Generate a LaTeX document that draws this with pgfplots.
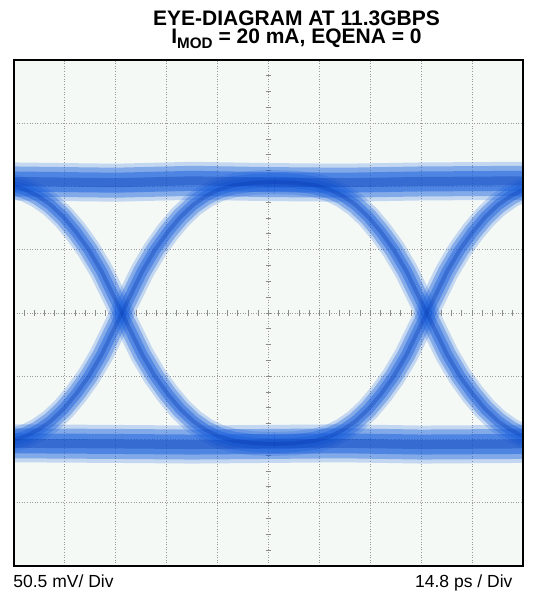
\documentclass[border=0pt]{standalone}
\usepackage{fontspec}
\setmainfont{Liberation Sans}
\usepackage{pgfplots}
\usepackage{pgfplotstable}
\pgfplotsset{compat=1.18}
\definecolor{bgc}{HTML}{F4F9F6}
\definecolor{eyeb}{RGB}{25,95,220}
\definecolor{eyed}{RGB}{10,60,180}
\definecolor{gridc}{HTML}{9A9A9A}
\definecolor{tickc}{HTML}{8A8A8A}

% rails (x in divisions, y in divisions)
\pgfplotstableread{
x y
0 6.08
2 6.06
3.5 6.09
5 6.07
6.5 6.06
8 6.08
10 6.09
}\upperrail
\pgfplotstableread{
x y
0 1.94
2 1.93
3.5 1.92
5 1.93
6.5 1.94
8 1.92
10 1.93
}\lowerrail
% transitions through the left crossing
\pgfplotstableread{
x y
-0.88 6.07
-0.48 6.06
-0.08 6.02
0.22 5.95
0.47 5.85
0.72 5.71
0.97 5.52
1.22 5.28
1.47 5.00
1.72 4.66
1.92 4.33
2.12 4.00
2.32 3.67
2.52 3.34
2.77 3.00
3.02 2.72
3.27 2.48
3.52 2.29
3.77 2.15
4.02 2.05
4.32 1.98
4.72 1.94
5.12 1.93
}\fallA
\pgfplotstableread{
x y
-0.88 1.93
-0.48 1.94
-0.08 1.98
0.22 2.05
0.47 2.15
0.72 2.29
0.97 2.48
1.22 2.72
1.47 3.00
1.72 3.34
1.92 3.67
2.12 4.00
2.32 4.33
2.52 4.66
2.77 5.00
3.02 5.28
3.27 5.52
3.52 5.71
3.77 5.85
4.02 5.95
4.32 6.02
4.72 6.06
5.12 6.07
}\riseA
% transitions through the right crossing
\pgfplotstableread{
x y
5.11 6.07
5.51 6.06
5.91 6.02
6.21 5.95
6.46 5.85
6.71 5.71
6.96 5.52
7.21 5.28
7.46 5.00
7.71 4.66
7.91 4.33
8.11 4.00
8.31 3.67
8.51 3.34
8.76 3.00
9.01 2.72
9.26 2.48
9.51 2.29
9.76 2.15
10.01 2.05
10.31 1.98
10.71 1.94
}\fallB
\pgfplotstableread{
x y
5.11 1.93
5.51 1.94
5.91 1.98
6.21 2.05
6.46 2.15
6.71 2.29
6.96 2.48
7.21 2.72
7.46 3.00
7.71 3.34
7.91 3.67
8.11 4.00
8.31 4.33
8.51 4.66
8.76 5.00
9.01 5.28
9.26 5.52
9.51 5.71
9.76 5.85
10.01 5.95
10.31 6.02
10.71 6.06
}\riseB

\pgfplotsset{
  railA/.style={eyeb, line width=19pt, opacity=0.22, line join=round},
  railB/.style={eyeb, line width=15pt, opacity=0.38, line join=round},
  railC/.style={eyeb, line width=10pt, opacity=0.48, line join=round},
  railD/.style={eyed, line width=4.5pt, opacity=0.35, line join=round},
  trA/.style={eyeb, line width=12pt, opacity=0.22, line join=round},
  trB/.style={eyeb, line width=9pt, opacity=0.36, line join=round},
  trC/.style={eyeb, line width=5.5pt, opacity=0.45, line join=round},
  trD/.style={eyed, line width=2pt, opacity=0.35, line join=round},
}

\begin{document}
\begin{tikzpicture}
\path[use as bounding box] (-7pt,-14pt) rectangle (260pt,283pt);
\begin{axis}[
  at={(0,0)}, anchor=south west,
  width=254.5pt, height=253pt, scale only axis,
  xmin=0, xmax=10, ymin=0, ymax=8,
  xtick={1,...,9}, ytick={1,...,7},
  xticklabels={}, yticklabels={},
  major tick length=0pt,
  grid=major,
  grid style={gridc, line width=0.5pt, dash pattern=on 0.5pt off 0.8pt},
  axis line style={line width=1.3pt, black},
  axis background/.style={fill=bgc},
]
% minor ticks on the centre lines
\pgfplotsforeachungrouped \i in {0.2,0.4,...,9.9} {%
  \edef\temp{\noexpand\draw[tickc, line width=0.5pt] ([yshift=-1.3pt]axis cs:\i,4) -- ([yshift=1.3pt]axis cs:\i,4);}\temp
}
\pgfplotsforeachungrouped \j in {0.25,0.5,...,7.9} {%
  \edef\temp{\noexpand\draw[tickc, line width=0.5pt] ([xshift=-1.3pt]axis cs:5,\j) -- ([xshift=1.3pt]axis cs:5,\j);}\temp
}
\addplot[railA] table {\upperrail};
\addplot[railA] table {\lowerrail};
\addplot[trA] table {\fallA};
\addplot[trA] table {\riseA};
\addplot[trA] table {\fallB};
\addplot[trA] table {\riseB};
\addplot[railB] table {\upperrail};
\addplot[railB] table {\lowerrail};
\addplot[trB] table {\fallA};
\addplot[trB] table {\riseA};
\addplot[trB] table {\fallB};
\addplot[trB] table {\riseB};
\addplot[railC] table {\upperrail};
\addplot[railC] table {\lowerrail};
\addplot[trC] table {\fallA};
\addplot[trC] table {\riseA};
\addplot[trC] table {\fallB};
\addplot[trC] table {\riseB};
\addplot[railD] table {\upperrail};
\addplot[railD] table {\lowerrail};
\addplot[trD] table {\fallA};
\addplot[trD] table {\riseA};
\addplot[trD] table {\fallB};
\addplot[trD] table {\riseB};
\end{axis}
\draw[line width=1.3pt, black] (0,0) rectangle (254.5pt,253pt);
\node[anchor=base, font=\bfseries\fontsize{10.5}{12}\selectfont, inner sep=0pt] at (141.25pt,270.4pt) {EYE-DIAGRAM AT 11.3GBPS};
\node[anchor=base, font=\bfseries\fontsize{10.5}{12}\selectfont, inner sep=0pt] at (141.25pt,261.2pt) {I\raisebox{-0.4ex}{\fontsize{7.6}{8}\selectfont MOD} = 20 mA, EQENA = 0};
\node[anchor=base west, font=\fontsize{8.75}{10}\selectfont, inner sep=0pt] at (-0.5pt,-10.5pt) {50.5 mV/ Div};
\node[anchor=base east, font=\fontsize{8.75}{10}\selectfont, inner sep=0pt] at (249.4pt,-10.5pt) {14.8 ps / Div};
\end{tikzpicture}
\end{document}
